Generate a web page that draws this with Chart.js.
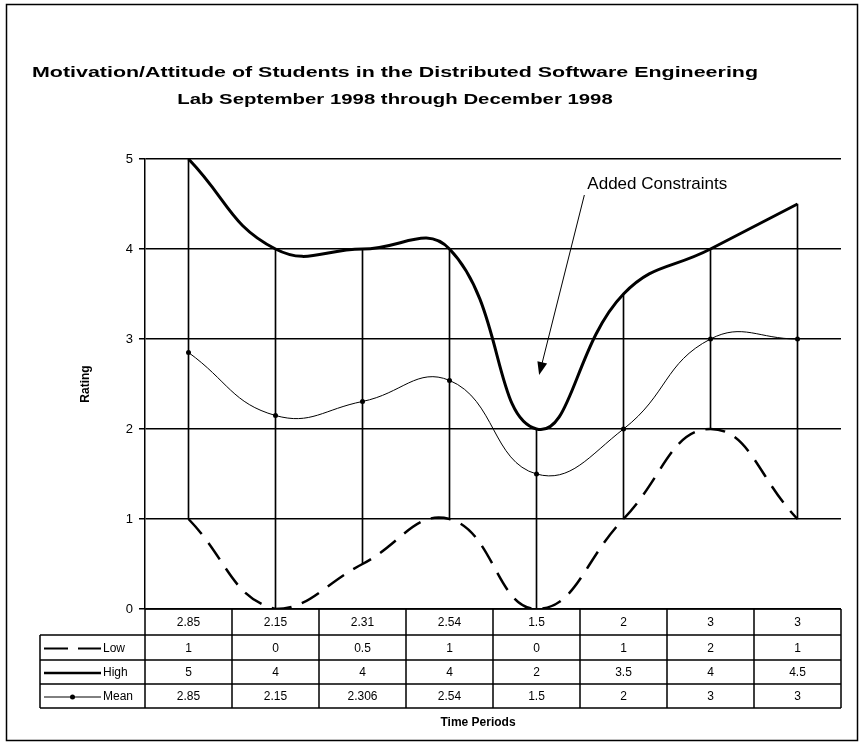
<!DOCTYPE html>
<html>
<head>
<meta charset="utf-8">
<script src="https://cdn.jsdelivr.net/npm/chart.js@4.4.1/dist/chart.umd.min.js"></script>
<style>
  body { margin: 0; background: #fff; }
  canvas { display: block; }
</style>
</head>
<body>
<canvas id="chart" width="859" height="744"></canvas>
<script>
// ---------------- data ----------------
var categories = ['2.85', '2.15', '2.31', '2.54', '1.5', '2', '3', '3'];
var lowValues = [1, 0, 0.5, 1, 0, 1, 2, 1];
var highValues = [5, 4, 4, 4, 2, 3.5, 4, 4.5];
var meanValues = [2.85, 2.15, 2.306, 2.54, 1.5, 2, 3, 3];
var meanLabels = ['2.85', '2.15', '2.306', '2.54', '1.5', '2', '3', '3'];
var seriesNames = ['Low', 'High', 'Mean'];
var yMin = 0, yMax = 5, yStep = 1;

var titleLines = ['Motivation/Attitude of Students in the Distributed Software Engineering',
                  'Lab September 1998 through December 1998'];
var note = { text: 'Added Constraints', fromX: 4.55, fromY: 4.6, toX: 4.03, toY: 2.6 };

// hi-lo lines, built from low and high
var ranges = lowValues.map(function (v, i) { return [v, highValues[i]]; });

var FONT = '"Liberation Sans", Arial, sans-serif';

// stretch text horizontally so it fills a width (scan is wider than normal Arial)
function fitText(ctx, text, cx, y, w) {
    var m = ctx.measureText(text).width;
    ctx.save();
    ctx.translate(cx, y);
    ctx.scale(w / m, 1);
    ctx.textAlign = 'center';
    ctx.fillText(text, 0, 0);
    ctx.restore();
}

function legendKey(ctx, name, x0, x1, y) {
    ctx.save();
    ctx.strokeStyle = '#000';
    ctx.beginPath();
    if (name === 'Low') {
        ctx.lineWidth = 2;
        ctx.setLineDash([24, 10]);
    } else if (name === 'High') {
        ctx.lineWidth = 2.5;
    } else {
        ctx.lineWidth = 1;
    }
    ctx.moveTo(x0, y);
    ctx.lineTo(x1, y);
    ctx.stroke();
    if (name === 'Mean') {
        ctx.fillStyle = '#000';
        ctx.beginPath();
        ctx.arc((x0 + x1) / 2, y, 2.5, 0, Math.PI * 2);
        ctx.fill();
    }
    ctx.restore();
}

var extras = {
    id: 'extras',
    afterDraw: function (chart) {
        var ctx = chart.ctx;
        var area = chart.chartArea;
        var x = chart.scales.x;
        var y = chart.scales.y;
        ctx.save();

        // outer frame
        ctx.strokeStyle = '#000';
        ctx.lineWidth = 1.5;
        ctx.strokeRect(6.5, 4.5, 851, 736);

        // title
        ctx.fillStyle = '#000';
        ctx.font = 'bold 15px ' + FONT;
        var w1 = ctx.measureText(titleLines[0]).width;
        var k = 726 / w1;
        fitText(ctx, titleLines[0], 395, 77, 726);
        fitText(ctx, titleLines[1], 395, 104, ctx.measureText(titleLines[1]).width * k * 0.95);

        // axis titles
        ctx.font = 'bold 12px ' + FONT;
        ctx.save();
        ctx.translate(89, (area.top + area.bottom) / 2);
        ctx.rotate(-Math.PI / 2);
        ctx.textAlign = 'center';
        ctx.fillText('Rating', 0, 0);
        ctx.restore();
        ctx.textAlign = 'center';
        ctx.fillText('Time Periods', 478, 726);

        // note + arrow
        var ax0 = x.getPixelForValue(note.fromX), ay0 = y.getPixelForValue(note.fromY);
        var ax1 = x.getPixelForValue(note.toX), ay1 = y.getPixelForValue(note.toY);
        ctx.font = '17px ' + FONT;
        ctx.textAlign = 'left';
        ctx.fillText(note.text, ax0 + 3, ay0 - 6);
        var ang = Math.atan2(ay1 - ay0, ax1 - ax0);
        ctx.lineWidth = 1;
        ctx.beginPath();
        ctx.moveTo(ax0, ay0);
        ctx.lineTo(ax1 - Math.cos(ang) * 10, ay1 - Math.sin(ang) * 10);
        ctx.stroke();
        ctx.beginPath();
        ctx.moveTo(ax1, ay1);
        ctx.lineTo(ax1 - Math.cos(ang) * 13 - Math.sin(ang) * 5, ay1 - Math.sin(ang) * 13 + Math.cos(ang) * 5);
        ctx.lineTo(ax1 - Math.cos(ang) * 13 + Math.sin(ang) * 5, ay1 - Math.sin(ang) * 13 - Math.cos(ang) * 5);
        ctx.closePath();
        ctx.fill();

        // data table
        var step = x.getPixelForValue(1) - x.getPixelForValue(0);
        var rows = [area.bottom, area.bottom + 26, area.bottom + 51, area.bottom + 75, area.bottom + 99];
        var headL = 40;
        ctx.lineWidth = 1.5;
        ctx.beginPath();
        rows.forEach(function (ry, r) {
            ctx.moveTo(r === 0 ? area.left : headL, ry);
            ctx.lineTo(area.right, ry);
        });
        ctx.moveTo(headL, rows[1]);
        ctx.lineTo(headL, rows[4]);
        for (var i = 0; i <= categories.length; i++) {
            var bx = area.left + i * step;
            ctx.moveTo(bx, rows[0]);
            ctx.lineTo(bx, rows[4]);
        }
        ctx.stroke();

        ctx.font = '12px ' + FONT;
        ctx.textAlign = 'center';
        ctx.textBaseline = 'middle';
        var tableRows = [categories, lowValues, highValues, meanLabels];
        tableRows.forEach(function (vals, r) {
            var cy = (rows[r] + rows[r + 1]) / 2 + 1;
            vals.forEach(function (v, i) {
                ctx.fillText(String(v), x.getPixelForValue(i), cy);
            });
            if (r > 0) {
                legendKey(ctx, seriesNames[r - 1], 44, 101, cy);
                ctx.textAlign = 'left';
                ctx.fillText(seriesNames[r - 1], 103, cy);
                ctx.textAlign = 'center';
            }
        });
        ctx.restore();
    }
};

var ctx = document.getElementById('chart').getContext('2d');
var chart = new Chart(ctx, {
    type: 'line',
    data: {
        labels: categories,
        datasets: [{
            type: 'bar',
            label: 'range',
            data: ranges,
            backgroundColor: '#000',
            barThickness: 1,
            order: 4
        }, {
            label: 'Low',
            data: lowValues,
            borderColor: '#000',
            borderWidth: 2.5,
            borderDash: [20, 11],
            tension: 0.45,
            pointRadius: 0,
            order: 1
        }, {
            label: 'High',
            data: highValues,
            borderColor: '#000',
            borderWidth: 3,
            tension: 0.45,
            pointRadius: 0,
            order: 2
        }, {
            label: 'Mean',
            data: meanValues,
            borderColor: '#000',
            borderWidth: 1,
            tension: 0.45,
            pointRadius: 2.5,
            pointBackgroundColor: '#000',
            pointBorderWidth: 0,
            order: 3
        }]
    },
    options: {
        responsive: false,
        animation: false,
        events: [],
        layout: {
            padding: { left: 0, right: 18, top: 159, bottom: 135 }
        },
        plugins: {
            legend: { display: false },
            title: { display: false },
            tooltip: { enabled: false }
        },
        scales: {
            x: {
                display: false,
                offset: true
            },
            y: {
                min: yMin,
                max: yMax,
                afterFit: function (scale) { scale.width = 145; },
                ticks: {
                    stepSize: yStep,
                    color: '#000',
                    padding: 6,
                    font: { family: FONT, size: 13 }
                },
                grid: {
                    color: '#000',
                    lineWidth: 1.5,
                    tickLength: 6
                },
                border: { color: '#000', width: 1.5 }
            }
        }
    },
    plugins: [extras]
});
</script>
</body>
</html>
